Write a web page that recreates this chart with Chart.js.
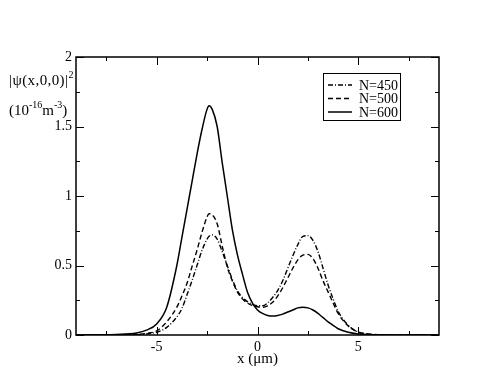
<!DOCTYPE html>
<html>
<head>
<meta charset="utf-8">
<script src="https://cdn.jsdelivr.net/npm/chart.js@4.4.0/dist/chart.umd.min.js"></script>
<style>
  html, body { margin: 0; padding: 0; background: #fff; }
  #wrap { position: relative; width: 494px; height: 382px; }
  #yTitle { position: absolute; left: 9px; top: 66px; font-family: "Liberation Serif", serif; font-size: 15px; line-height: 29px; color: #000; white-space: nowrap; }
  #yTitle .l1 { letter-spacing: 0.4px; }
  #yTitle sup { font-size: 10px; position: relative; top: -7px; vertical-align: baseline; letter-spacing: 0; }
</style>
</head>
<body>
<div id="wrap">
  <canvas id="chart" width="494" height="382"></canvas>
  <div id="yTitle"><span class="l1">|ψ(x,0,0)|</span><sup>2</sup><br>(10<sup>-16</sup>m<sup>-3</sup>)</div>
</div>
<script>
// x positions (μm) shared by the three curves
var xValues = [-9, -8, -7, -6, -5.5, -5, -4.5, -4, -3.75, -3.5, -3.25, -3, -2.75, -2.5, -2.4, -2.25, -2, -1.75, -1.5, -1.25, -1, -0.75, -0.5, -0.25, 0, 0.25, 0.5, 0.75, 1, 1.25, 1.5, 1.75, 2, 2.25, 2.5, 2.75, 3, 3.25, 3.5, 3.75, 4, 4.5, 5, 5.5, 6, 7, 8, 9];

// |psi(x,0,0)|^2 in 1e-16 m^-3
var n450 = [0, 0, 0.001, 0.003, 0.008, 0.02, 0.055, 0.13, 0.19, 0.287, 0.39, 0.5, 0.61, 0.69, 0.71, 0.72, 0.69, 0.6, 0.5, 0.4, 0.32, 0.27, 0.24, 0.22, 0.21, 0.21, 0.23, 0.27, 0.32, 0.39, 0.48, 0.57, 0.65, 0.71, 0.715, 0.68, 0.6, 0.48, 0.36, 0.26, 0.17, 0.07, 0.022, 0.006, 0.002, 0, 0, 0];
var n500 = [0, 0, 0.001, 0.005, 0.012, 0.03, 0.095, 0.2, 0.28, 0.37, 0.49, 0.61, 0.74, 0.85, 0.872, 0.865, 0.8, 0.64, 0.49, 0.39, 0.31, 0.26, 0.23, 0.212, 0.203, 0.2, 0.21, 0.235, 0.28, 0.34, 0.41, 0.48, 0.54, 0.575, 0.58, 0.55, 0.48, 0.39, 0.31, 0.23, 0.155, 0.065, 0.02, 0.007, 0.002, 0, 0, 0];
var n600 = [0, 0.001, 0.004, 0.015, 0.035, 0.08, 0.2, 0.5, 0.7, 0.9, 1.1, 1.3, 1.48, 1.625, 1.65, 1.625, 1.5, 1.24, 1.0, 0.76, 0.58, 0.44, 0.31, 0.23, 0.18, 0.155, 0.14, 0.136, 0.14, 0.15, 0.165, 0.18, 0.195, 0.2, 0.195, 0.18, 0.155, 0.125, 0.095, 0.07, 0.045, 0.02, 0.008, 0.003, 0.001, 0, 0, 0];

var seriesNames = ['N=450', 'N=500', 'N=600'];

var xTicks = [-7.5, -5, -2.5, 0, 2.5, 5, 7.5];
var xLabels = [-5, 0, 5];
var yTicks = [0, 0.25, 0.5, 0.75, 1, 1.25, 1.5, 1.75, 2];
var yLabels = [0, 0.5, 1, 1.5, 2];

function points(ys) {
    return xValues.map(function (x, i) { return { x: x, y: ys[i] }; });
}

var serif = '"Liberation Serif", "Times New Roman", serif';

// box round the plot, with inward ticks on all four sides
var framePlugin = {
    id: 'frame',
    afterDatasetsDraw: function (chart) {
        var ctx = chart.ctx, a = chart.chartArea;
        var xs = chart.scales.x, ys = chart.scales.y;
        ctx.save();
        ctx.strokeStyle = '#000';
        ctx.lineWidth = 1;
        xTicks.forEach(function (v) {
            var p = Math.round(xs.getPixelForValue(v)) + 0.5;
            var len = xLabels.indexOf(v) >= 0 ? 8 : 4;
            ctx.beginPath();
            ctx.moveTo(p, a.bottom); ctx.lineTo(p, a.bottom - len);
            ctx.moveTo(p, a.top); ctx.lineTo(p, a.top + len);
            ctx.stroke();
        });
        yTicks.forEach(function (v) {
            var p = Math.round(ys.getPixelForValue(v)) + 0.5;
            var len = yLabels.indexOf(v) >= 0 ? 8 : 4;
            ctx.beginPath();
            ctx.moveTo(a.left, p); ctx.lineTo(a.left + len, p);
            ctx.moveTo(a.right, p); ctx.lineTo(a.right - len, p);
            ctx.stroke();
        });
        ctx.lineWidth = 1.5;
        ctx.strokeRect(a.left, a.top, a.right - a.left, a.bottom - a.top);
        ctx.restore();
    }
};

// boxed legend in the upper right of the plot
var legendPlugin = {
    id: 'boxLegend',
    afterDraw: function (chart) {
        var ctx = chart.ctx, a = chart.chartArea;
        var bx = a.right - 116, by = a.top + 16, bw = 77, bh = 47;
        ctx.save();
        ctx.fillStyle = '#fff';
        ctx.fillRect(bx, by, bw, bh);
        ctx.strokeStyle = '#000';
        ctx.lineWidth = 1;
        ctx.strokeRect(bx + 0.5, by + 0.5, bw, bh);
        ctx.font = '14px ' + serif;
        ctx.textBaseline = 'middle';
        chart.data.datasets.forEach(function (ds, i) {
            var yy = by + 12 + i * 13.5;
            ctx.beginPath();
            ctx.setLineDash(ds.borderDash || []);
            ctx.lineWidth = ds.borderWidth;
            ctx.moveTo(bx + 5, yy);
            ctx.lineTo(bx + 29, yy);
            ctx.stroke();
            ctx.setLineDash([]);
            ctx.fillStyle = '#000';
            ctx.fillText(ds.label, bx + 36, yy + 1);
        });
        ctx.restore();
    }
};

new Chart(document.getElementById('chart'), {
    type: 'line',
    data: {
        datasets: [
            { label: seriesNames[0], data: points(n450), borderColor: '#000', borderWidth: 1.4, borderDash: [5, 2, 1, 2] },
            { label: seriesNames[1], data: points(n500), borderColor: '#000', borderWidth: 1.4, borderDash: [5, 3] },
            { label: seriesNames[2], data: points(n600), borderColor: '#000', borderWidth: 1.5 }
        ]
    },
    options: {
        responsive: false,
        animation: false,
        parsing: false,
        layout: { padding: { top: 57, right: 55, bottom: 0, left: 0 } },
        elements: {
            point: { radius: 0 },
            line: { cubicInterpolationMode: 'monotone', fill: false }
        },
        plugins: { legend: { display: false }, tooltip: { enabled: false } },
        scales: {
            x: {
                type: 'linear',
                min: -9,
                max: 9,
                grid: { display: false, drawTicks: false },
                border: { display: false },
                afterBuildTicks: function (s) { s.ticks = xTicks.map(function (v) { return { value: v }; }); },
                afterFit: function (s) { s.height = 47; },
                ticks: {
                    autoSkip: false,
                    maxRotation: 0,
                    padding: 4,
                    color: '#000',
                    font: { family: serif, size: 14 },
                    callback: function (v) { return xLabels.indexOf(v) >= 0 ? String(v) : ''; }
                },
                title: {
                    display: true,
                    text: 'x (μm)',
                    color: '#000',
                    font: { family: serif, size: 15 },
                    padding: { top: 14, bottom: 14 }
                }
            },
            y: {
                type: 'linear',
                min: 0,
                max: 2,
                grid: { display: false, drawTicks: false },
                border: { display: false },
                afterBuildTicks: function (s) { s.ticks = yTicks.map(function (v) { return { value: v }; }); },
                afterFit: function (s) { s.width = 76; },
                ticks: {
                    autoSkip: false,
                    padding: 4,
                    color: '#000',
                    font: { family: serif, size: 14 },
                    callback: function (v) { return yLabels.indexOf(v) >= 0 ? String(v) : ''; }
                }
            }
        }
    },
    plugins: [framePlugin, legendPlugin]
});
</script>
</body>
</html>
